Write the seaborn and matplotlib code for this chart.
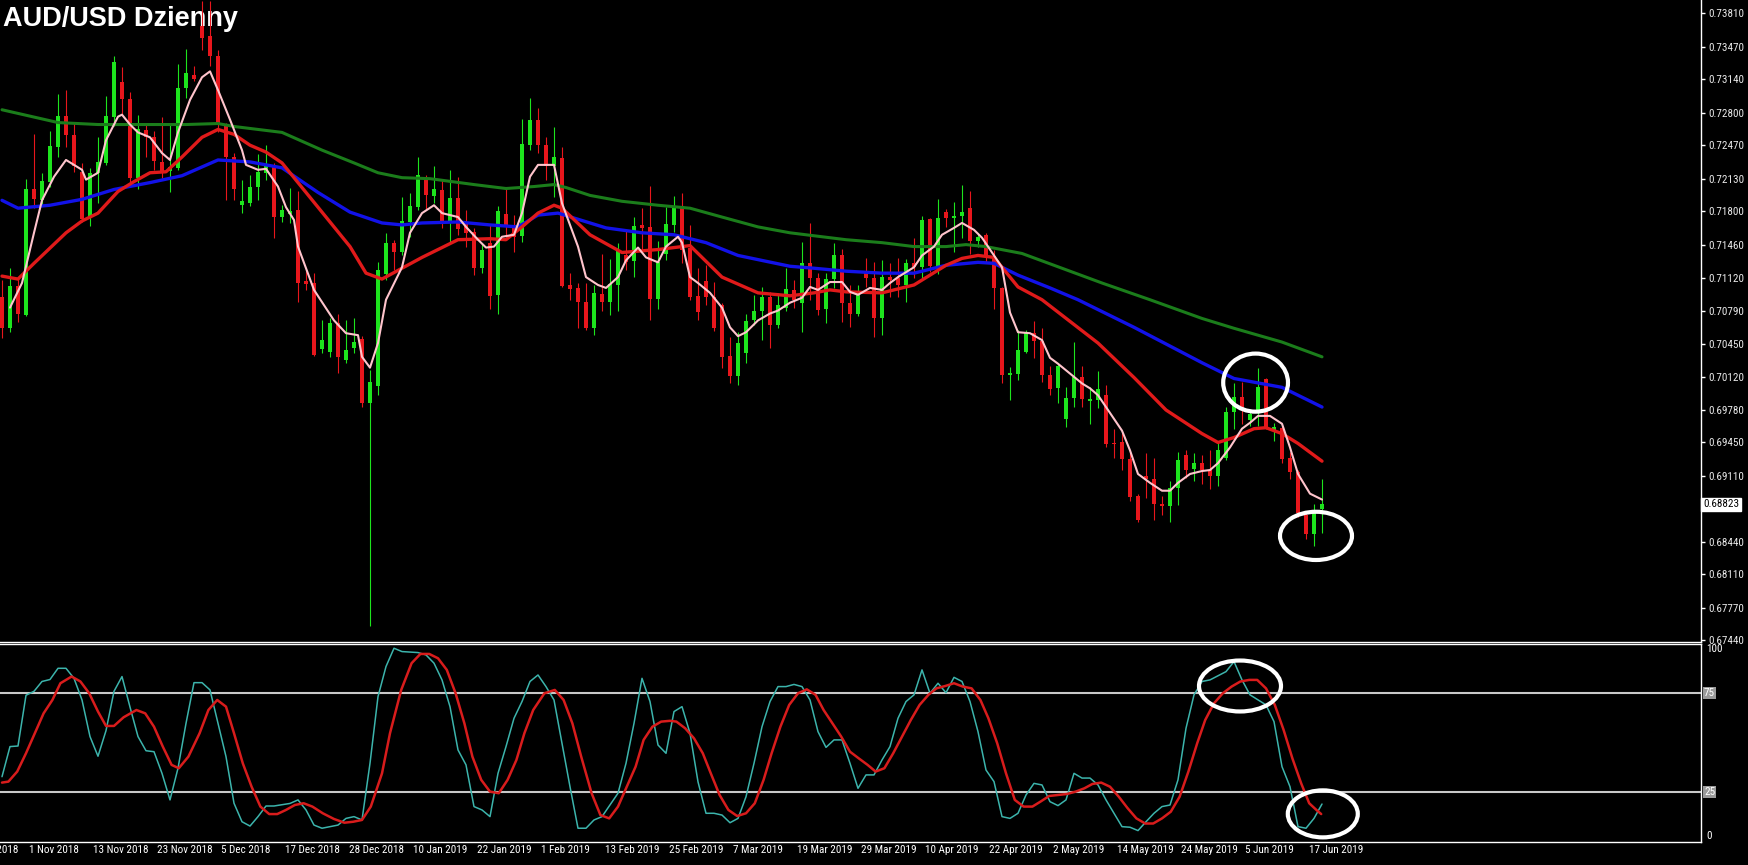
import numpy as np
import matplotlib
matplotlib.use('Agg')
import matplotlib.pyplot as plt
import matplotlib.transforms as mtransforms
from matplotlib import font_manager
from matplotlib.patches import Ellipse
import seaborn as sns

# AUD/USD daily candles, 29 Oct 2018 .. 19 Jun 2019
first_day = '2018-10-29'
holidays = ['2018-12-25', '2019-01-01']

open_ = [0.7093, 0.7061, 0.7104, 0.7074, 0.7202, 0.7191, 0.7210, 0.7245, 0.7277, 0.7257,
         0.7220, 0.7174, 0.7219, 0.7229, 0.7276, 0.7311, 0.7294, 0.7214, 0.7262, 0.7255,
         0.7230, 0.7221, 0.7224, 0.7305, 0.7318, 0.7368, 0.7358, 0.7338, 0.7267, 0.7235,
         0.7186, 0.7188, 0.7205, 0.7219, 0.7227, 0.7174, 0.7177, 0.7181, 0.7109, 0.7107,
         0.7040, 0.7037, 0.7066, 0.7029, 0.7041, 0.7050, 0.6985, 0.7002, 0.7116, 0.7148,
         0.7139, 0.7169, 0.7184, 0.7214, 0.7195, 0.7201, 0.7168, 0.7193, 0.7167, 0.7159,
         0.7122, 0.7148, 0.7095, 0.7177, 0.7166, 0.7155, 0.7247, 0.7273, 0.7247, 0.7226,
         0.7234, 0.7105, 0.7102, 0.7088, 0.7061, 0.7096, 0.7088, 0.7105, 0.7135, 0.7129,
         0.7166, 0.7164, 0.7091, 0.7136, 0.7166, 0.7185, 0.7143, 0.7094, 0.7109, 0.7093,
         0.7085, 0.7033, 0.7013, 0.7036, 0.7069, 0.7079, 0.7093, 0.7064, 0.7082, 0.7100,
         0.7087, 0.7127, 0.7112, 0.7081, 0.7111, 0.7135, 0.7087, 0.7076, 0.7119, 0.7112,
         0.7071, 0.7113, 0.7112, 0.7105, 0.7127, 0.7123, 0.7172, 0.7124, 0.7179, 0.7173,
         0.7175, 0.7183, 0.7150, 0.7156, 0.7134, 0.7102, 0.7014, 0.7015, 0.7037, 0.7056,
         0.7048, 0.7014, 0.7000, 0.6969, 0.6990, 0.7012, 0.6987, 0.6988, 0.6993, 0.6944,
         0.6945, 0.6928, 0.6891, 0.6911, 0.6908, 0.6883, 0.6880, 0.6899, 0.6932, 0.6918,
         0.6924, 0.6917, 0.6911, 0.6929, 0.6976, 0.6991, 0.6968, 0.6978, 0.7009, 0.6958,
         0.6960, 0.6929, 0.6915, 0.6871, 0.6852, 0.6877]
high = [0.7110, 0.7122, 0.7113, 0.7213, 0.7258, 0.7219, 0.7261, 0.7299, 0.7303, 0.7270,
        0.7229, 0.7224, 0.7255, 0.7297, 0.7338, 0.7326, 0.7301, 0.7278, 0.7269, 0.7261,
        0.7276, 0.7270, 0.7329, 0.7345, 0.7327, 0.7393, 0.7393, 0.7344, 0.7270, 0.7239,
        0.7212, 0.7217, 0.7238, 0.7247, 0.7229, 0.7186, 0.7204, 0.7200, 0.7120, 0.7117,
        0.7069, 0.7071, 0.7076, 0.7069, 0.7071, 0.7053, 0.7019, 0.7128, 0.7158, 0.7151,
        0.7194, 0.7198, 0.7235, 0.7217, 0.7226, 0.7212, 0.7222, 0.7215, 0.7181, 0.7163,
        0.7148, 0.7167, 0.7185, 0.7205, 0.7176, 0.7274, 0.7295, 0.7285, 0.7255, 0.7265,
        0.7245, 0.7117, 0.7107, 0.7107, 0.7105, 0.7136, 0.7131, 0.7148, 0.7161, 0.7174,
        0.7183, 0.7206, 0.7150, 0.7184, 0.7195, 0.7198, 0.7166, 0.7122, 0.7125, 0.7108,
        0.7087, 0.7052, 0.7057, 0.7076, 0.7095, 0.7103, 0.7098, 0.7097, 0.7122, 0.7110,
        0.7149, 0.7168, 0.7117, 0.7117, 0.7148, 0.7142, 0.7105, 0.7105, 0.7132, 0.7128,
        0.7130, 0.7127, 0.7132, 0.7131, 0.7153, 0.7175, 0.7173, 0.7192, 0.7182, 0.7189,
        0.7207, 0.7200, 0.7158, 0.7158, 0.7141, 0.7103, 0.7022, 0.7059, 0.7059, 0.7068,
        0.7061, 0.7023, 0.7025, 0.7001, 0.7047, 0.7023, 0.7001, 0.7018, 0.7003, 0.6959,
        0.6955, 0.6935, 0.6893, 0.6934, 0.6929, 0.6891, 0.6906, 0.6935, 0.6937, 0.6934,
        0.6932, 0.6937, 0.6944, 0.6981, 0.7005, 0.7006, 0.6978, 0.7021, 0.7010, 0.6965,
        0.6962, 0.6935, 0.6917, 0.6873, 0.6882, 0.6908]
low = [0.7051, 0.7057, 0.7067, 0.7073, 0.7183, 0.7186, 0.7205, 0.7235, 0.7245, 0.7220,
       0.7169, 0.7165, 0.7188, 0.7227, 0.7266, 0.7278, 0.7210, 0.7203, 0.7235, 0.7222,
       0.7214, 0.7199, 0.7222, 0.7295, 0.7312, 0.7344, 0.7327, 0.7260, 0.7191, 0.7191,
       0.7178, 0.7185, 0.7191, 0.7212, 0.7153, 0.7169, 0.7168, 0.7088, 0.7100, 0.7033,
       0.7036, 0.7032, 0.7016, 0.7026, 0.7036, 0.6981, 0.6759, 0.6993, 0.7110, 0.7120,
       0.7135, 0.7154, 0.7181, 0.7181, 0.7188, 0.7163, 0.7148, 0.7156, 0.7144, 0.7115,
       0.7117, 0.7081, 0.7076, 0.7154, 0.7138, 0.7149, 0.7242, 0.7239, 0.7212, 0.7194,
       0.7103, 0.7090, 0.7061, 0.7059, 0.7054, 0.7079, 0.7074, 0.7079, 0.7120, 0.7113,
       0.7137, 0.7069, 0.7081, 0.7130, 0.7159, 0.7127, 0.7090, 0.7069, 0.7085, 0.7058,
       0.7021, 0.7005, 0.7003, 0.7026, 0.7064, 0.7049, 0.7041, 0.7061, 0.7079, 0.7082,
       0.7057, 0.7090, 0.7074, 0.7066, 0.7102, 0.7067, 0.7062, 0.7073, 0.7103, 0.7052,
       0.7054, 0.7093, 0.7093, 0.7088, 0.7112, 0.7112, 0.7118, 0.7116, 0.7164, 0.7138,
       0.7153, 0.7136, 0.7144, 0.7128, 0.7081, 0.7005, 0.6988, 0.7008, 0.7036, 0.7031,
       0.7006, 0.6993, 0.6985, 0.6961, 0.6981, 0.6981, 0.6964, 0.6980, 0.6940, 0.6929,
       0.6917, 0.6886, 0.6864, 0.6889, 0.6866, 0.6871, 0.6864, 0.6881, 0.6909, 0.6906,
       0.6903, 0.6898, 0.6901, 0.6927, 0.6959, 0.6964, 0.6962, 0.6962, 0.6959, 0.6947,
       0.6924, 0.6908, 0.6869, 0.6847, 0.6840, 0.6853]
close = [0.7061, 0.7104, 0.7076, 0.7202, 0.7192, 0.7211, 0.7246, 0.7277, 0.7257, 0.7226,
         0.7172, 0.7219, 0.7230, 0.7277, 0.7332, 0.7294, 0.7214, 0.7263, 0.7255, 0.7231,
         0.7219, 0.7225, 0.7305, 0.7320, 0.7314, 0.7356, 0.7338, 0.7268, 0.7235, 0.7202,
         0.7190, 0.7205, 0.7220, 0.7227, 0.7174, 0.7181, 0.7180, 0.7107, 0.7106, 0.7034,
         0.7049, 0.7066, 0.7032, 0.7039, 0.7047, 0.6985, 0.7006, 0.7120, 0.7148, 0.7139,
         0.7170, 0.7185, 0.7217, 0.7196, 0.7202, 0.7168, 0.7193, 0.7162, 0.7158, 0.7122,
         0.7141, 0.7094, 0.7180, 0.7164, 0.7154, 0.7248, 0.7273, 0.7247, 0.7226, 0.7235,
         0.7104, 0.7101, 0.7088, 0.7061, 0.7097, 0.7088, 0.7106, 0.7141, 0.7128, 0.7165,
         0.7163, 0.7091, 0.7128, 0.7167, 0.7185, 0.7141, 0.7093, 0.7078, 0.7093, 0.7061,
         0.7032, 0.7013, 0.7046, 0.7068, 0.7079, 0.7093, 0.7064, 0.7085, 0.7101, 0.7090,
         0.7127, 0.7112, 0.7080, 0.7111, 0.7135, 0.7087, 0.7076, 0.7097, 0.7112, 0.7071,
         0.7113, 0.7110, 0.7105, 0.7127, 0.7123, 0.7171, 0.7124, 0.7173, 0.7173, 0.7175,
         0.7179, 0.7150, 0.7154, 0.7134, 0.7102, 0.7014, 0.7016, 0.7039, 0.7057, 0.7048,
         0.7014, 0.6999, 0.7023, 0.6990, 0.7012, 0.6989, 0.6989, 0.6999, 0.6943, 0.6943,
         0.6928, 0.6890, 0.6866, 0.6908, 0.6882, 0.6880, 0.6899, 0.6927, 0.6917, 0.6924,
         0.6917, 0.6911, 0.6937, 0.6976, 0.6991, 0.6978, 0.6974, 0.7001, 0.6959, 0.6961,
         0.6928, 0.6915, 0.6873, 0.6852, 0.6873, 0.68823]
last_price = 0.68823

# moving averages, read at bar positions
ma_slow_x = [0, 7, 12, 23, 27, 29, 35, 40, 44, 47, 50, 53.5, 59, 63, 66.5, 69, 70.5, 73.5, 77.5, 82,
             86, 90, 94.5, 98.5, 101.5, 105.5, 110, 114, 118, 120.5, 123, 127.5, 132.5, 137.5,
             143.5, 150, 154, 160, 165]
ma_slow = [0.7283, 0.7270, 0.7268, 0.7268, 0.7269, 0.7266, 0.7260, 0.7242, 0.7229, 0.7219,
           0.7214, 0.7213, 0.7207, 0.7203, 0.7205, 0.7207, 0.7204, 0.7196, 0.7190, 0.7186,
           0.7183, 0.7174, 0.7164, 0.7158, 0.7155, 0.7151, 0.7148, 0.7144, 0.7144, 0.7146,
           0.7144, 0.7137, 0.7122, 0.7107, 0.7090, 0.7071, 0.7061, 0.7047, 0.7032]
ma_mid_x = [0, 2, 6, 10, 14, 18.5, 22.5, 27, 31, 35, 39.5, 43.5, 47.5, 50, 52.5, 57, 61, 64.5, 67,
            69.5, 71.5, 75.5, 80, 84, 88, 92, 98.5, 101.5, 105.5, 110, 114, 118, 122, 124, 127,
            131, 134.5, 141.5, 150, 154, 160, 165]
ma_mid = [0.7191, 0.7183, 0.7186, 0.7192, 0.7202, 0.7209, 0.7216, 0.7232, 0.7230, 0.7224,
          0.7199, 0.7179, 0.7168, 0.7166, 0.7168, 0.7169, 0.7166, 0.7164, 0.7176, 0.7178,
          0.7173, 0.7163, 0.7158, 0.7156, 0.7148, 0.7135, 0.7124, 0.7122, 0.7119, 0.7117,
          0.7117, 0.7125, 0.7128, 0.7127, 0.7115, 0.7102, 0.7090, 0.7062, 0.7026, 0.7010,
          0.7001, 0.6981]
ma_fast_x = [0, 2, 4, 8, 10, 12, 14.5, 16.5, 18.5, 20.5, 22.5, 25, 27, 29, 31, 33, 35, 37, 39.5,
             43.5, 45.5, 47.5, 50, 52.5, 57, 61, 63, 65, 67, 69, 70, 73.5, 77.5, 82, 86, 90, 94.5,
             98.5, 101.5, 103.5, 105.5, 110, 114, 118, 120, 122, 124, 125, 127, 130, 137, 141.5,
             145.5, 150, 152, 154, 156.5, 158, 160, 162, 165]
ma_fast = [0.7114, 0.7111, 0.7127, 0.7158, 0.7170, 0.7178, 0.7200, 0.7210, 0.7219, 0.7220,
           0.7235, 0.7255, 0.7263, 0.7258, 0.7247, 0.7240, 0.7229, 0.7209, 0.7184, 0.7144,
           0.7117, 0.7111, 0.7122, 0.7133, 0.7151, 0.7152, 0.7151, 0.7164, 0.7178, 0.7186,
           0.7183, 0.7156, 0.7138, 0.7141, 0.7145, 0.7113, 0.7097, 0.7094, 0.7097, 0.7100,
           0.7098, 0.7097, 0.7105, 0.7125, 0.7132, 0.7135, 0.7133, 0.7123, 0.7103, 0.7090,
           0.7046, 0.7011, 0.6978, 0.6954, 0.6945, 0.6950, 0.6959, 0.6960, 0.6954, 0.6944,
           0.6926]
ma_short_x = [1, 2.5, 4, 5, 6.5, 8, 10, 10.5, 12, 13, 14.5, 15, 16, 17, 18.5, 20, 21, 22, 23.5, 25,
              26, 27, 28.5, 30, 30.5, 32, 33, 34.5, 35.5, 36.5, 37, 39, 41.5, 43, 44.5, 45, 46, 47,
              48, 50, 51, 52.5, 54, 55, 57, 58, 59.5, 60.5, 61.5, 62.5, 64, 65, 66, 67, 69, 70,
              72, 73, 74.5, 75.5, 77, 78, 79.5, 80.5, 82, 83, 84.5, 85, 86, 87, 88.5, 90, 91, 92,
              93, 94.5, 96, 97, 98.5, 100, 101, 102, 103.5, 105, 106, 107, 108.5, 110, 111, 112,
              114, 115, 116.5, 117.5, 119, 120, 121.5, 122.5, 123.5, 125, 126, 127, 128.5, 130,
              131, 132, 133.5, 135, 136, 137, 138.5, 140, 141, 142, 143.5, 145, 146, 147, 148.5,
              150, 151, 152, 153.5, 155, 156, 157, 158.5, 160, 161, 162, 163.5, 165]
ma_short = [0.7082, 0.7107, 0.7158, 0.7191, 0.7215, 0.7232, 0.7222, 0.7212, 0.7219, 0.7252,
            0.7276, 0.7278, 0.7268, 0.7260, 0.7255, 0.7239, 0.7232, 0.7260, 0.7293, 0.7316,
            0.7322, 0.7303, 0.7273, 0.7242, 0.7227, 0.7222, 0.7223, 0.7205, 0.7184, 0.7171,
            0.7144, 0.7100, 0.7069, 0.7056, 0.7054, 0.7032, 0.7021, 0.7046, 0.7090, 0.7123,
            0.7158, 0.7178, 0.7186, 0.7178, 0.7174, 0.7164, 0.7151, 0.7143, 0.7144, 0.7154,
            0.7156, 0.7178, 0.7215, 0.7227, 0.7227, 0.7188, 0.7144, 0.7113, 0.7105, 0.7102,
            0.7113, 0.7130, 0.7143, 0.7133, 0.7128, 0.7144, 0.7154, 0.7148, 0.7113, 0.7107,
            0.7097, 0.7082, 0.7062, 0.7053, 0.7057, 0.7069, 0.7076, 0.7079, 0.7087, 0.7092,
            0.7103, 0.7100, 0.7108, 0.7108, 0.7098, 0.7095, 0.7102, 0.7100, 0.7107, 0.7113,
            0.7123, 0.7135, 0.7144, 0.7156, 0.7163, 0.7168, 0.7161, 0.7153, 0.7141, 0.7123,
            0.7077, 0.7057, 0.7056, 0.7049, 0.7031, 0.7025, 0.7015, 0.7005, 0.7000, 0.6993,
            0.6975, 0.6957, 0.6937, 0.6913, 0.6904, 0.6896, 0.6896, 0.6904, 0.6913, 0.6916,
            0.6917, 0.6924, 0.6940, 0.6959, 0.6965, 0.6972, 0.6972, 0.6964, 0.6940, 0.6913,
            0.6893, 0.6887]

# stochastic oscillator (%K cyan, %D red)
stoch_k_x = [0, 1, 2, 3, 4, 5, 6, 7, 8, 9, 10, 11, 12, 13, 14, 15, 16, 17, 18, 19,
             20, 21, 22, 23, 24, 25, 26, 27, 28, 29, 30, 31, 32, 33, 34, 36, 37, 38, 39, 40,
             42, 43, 44, 45, 46, 47, 48, 49, 50, 52, 53, 54, 55, 56, 57, 58, 59, 60, 61, 62,
             63, 64, 65, 66, 67, 68, 69, 70, 71, 72, 73, 74, 75, 77, 78, 79, 80, 81, 82, 83,
             84, 85, 86, 87, 88, 89, 90, 91, 92, 93, 94, 95, 96, 97, 98, 99, 100, 101, 102, 103,
             104, 105, 106, 107, 108, 109, 110, 111, 112, 113, 114, 115, 116, 117, 118, 119, 120,
             121, 122, 123, 124, 125, 126, 127, 128, 129, 130, 131, 132, 133, 134, 135, 136, 137,
             138, 139, 140, 141, 142, 143, 144, 145, 146, 147, 148, 149, 150, 151, 153, 154,
             155, 156, 158, 159, 160, 161, 162, 163, 164, 165]
stoch_k = [32.6, 47.9, 48.2, 74, 76, 81, 82, 87.7, 87.7, 82.6, 71.6, 53, 43, 56, 76, 83.5, 68, 53,
           45.8, 45.3, 34.3, 20.8, 36.9, 59.7, 80.4, 80.4, 76.7, 59.7, 42.8, 19.1, 9.7, 7.5, 12.3,
           17.7, 17.7, 19, 20.8, 15.7, 8, 6.4, 8, 11.4, 12.3, 10.6, 39.4, 73.3, 88.6, 97.9, 96.2,
           95.7, 94.5, 90.3, 81.8, 68.2, 46.2, 38.6, 17.4, 15.7, 12.3, 34.3, 47.9, 62.3, 70.8, 81,
           84.3, 78.4, 71.6, 49.6, 27.5, 6.4, 6.4, 10.6, 12.3, 24.2, 39.4, 59.7, 82.6, 70.8, 48.7,
           44.5, 65.7, 68.2, 54.7, 30, 14, 14, 13.1, 9.2, 11.4, 22.4, 39.4, 58, 70.8, 78.4, 78.4,
           79.5, 78.4, 71.6, 55.5, 47.5, 51.3, 51.3, 39.4, 26.7, 33.5, 33.5, 41.1, 47.9, 62.3,
           70.8, 74.2, 86.9, 75, 80.1, 75.3, 83.1, 81, 70.8, 55.5, 36, 30.1, 12.3, 11.4, 14, 23.3,
           29.2, 28.4, 19.9, 17.9, 20.8, 34.3, 31.9, 31.9, 28.4, 20.8, 14, 7.2, 6.9, 5.2, 9.7, 14,
           17.4, 18.2, 31, 57.2, 74.2, 81, 81.8, 86, 91.1, 81.8, 74.2, 69.1, 60.6, 37.7, 27.5,
           7.2, 6.4, 11.4, 18.7]
stoch_d_x = [0, 0.8, 1.9, 3, 4.1, 5.2, 6.3, 7.3, 8.7, 9.8, 10.9, 12, 13, 14, 15.2, 16.8, 17.9, 19,
             20.1, 21.2, 22.1, 23.3, 24.7, 25.8, 26.9, 28, 29, 30.1, 31.2, 32.3, 33.4, 34.4, 35.5,
             36.6, 37.7, 38.8, 40.1, 41.5, 42.8, 43.9, 45, 46.1, 47.5, 48.5, 49.9, 51.2, 52.3, 53.4,
             54.5, 55.6, 56.7, 57.8, 58.8, 59.9, 61, 62.1, 63.2, 64.3, 65.3, 66.4, 67.8, 69.1, 70.2,
             71.3, 72.4, 73.7, 74.8, 75.9, 77, 78.1, 79.2, 80.2, 81.3, 82.4, 83.5, 84.3, 85.4, 86.5,
             87.6, 88.6, 89.7, 90.8, 91.9, 93, 94.1, 95.2, 96.2, 97.3, 98.4, 99.5, 100.6, 101.7,
             102.7, 103.8, 104.9, 106, 107.1, 108.2, 109.2, 110.3, 111.4, 112.5, 113.6, 114.7,
             115.8, 116.8, 117.9, 119, 120.1, 121.2, 122.3, 123.3, 124.4, 125.5, 126.6, 127.7,
             128.8, 129.8, 130.9, 132, 133.1, 134.2, 135.3, 136.3, 137.4, 138.5, 139.6, 140.7,
             141.8, 142.9, 143.9, 145, 146.1, 147.2, 148.3, 149.4, 150.4, 151.5, 152.6, 153.7,
             154.8, 155.9, 156.9, 158, 159.1, 160.2, 161.3, 162.4, 163.4, 164.3, 164.9]
stoch_d = [29.6, 30.1, 35.2, 44.5, 54.7, 64.8, 71.6, 80.1, 83.5, 81, 75, 65.7, 58.4, 58.4, 62.8,
           66.5, 64.8, 58, 47.9, 38.6, 36.9, 42.8, 54.7, 66.5, 71.6, 68.2, 54.7, 39.4, 27.5, 17.4,
           13.6, 13.6, 15.7, 18.2, 19.1, 17.4, 14, 11.1, 9.2, 9.7, 10.6, 17.4, 34.3, 54.7, 76.7,
           90.3, 95, 95, 92.8, 86.9, 75, 59.7, 42.8, 31, 25, 24.2, 31, 41.1, 54.7, 66.5, 75, 76.7,
           71.6, 59.7, 42.8, 24.2, 13.1, 11.4, 17.4, 27.5, 37.7, 51.3, 58, 60.6, 61, 60.6, 57.2,
           52.1, 44.5, 34.3, 23.3, 15.7, 12.6, 14, 19.1, 31, 44.5, 58, 69.1, 75, 77, 74.2, 66.5,
           59.7, 53, 45.3, 41.9, 38.6, 35.2, 36.9, 44.5, 53, 61.4, 69.1, 74.2, 77.5, 78.7, 80.1,
           78.4, 77.5, 71.6, 62.3, 49.6, 34.3, 20.8, 17.4, 17.4, 19.9, 22.8, 23.3, 23.8, 25, 26.7,
           28.9, 29.6, 27.5, 22.4, 16.6, 11.4, 8.8, 8.8, 11.4, 14.8, 22.4, 35.2, 49.6, 61.4, 69.9,
           75, 78.4, 81, 81.8, 81.8, 77.5, 69.1, 56.4, 41.9, 29.2, 19.1, 15.7, 13.6]
stoch_levels = [75, 25]

price_ticks = [0.73810, 0.73470, 0.73140, 0.72800, 0.72470, 0.72130, 0.71800, 0.71460, 0.71120,
               0.70790, 0.70450, 0.70120, 0.69780, 0.69450, 0.69110, 0.68780, 0.68440, 0.68110,
               0.67770, 0.67440]
date_labels = ['22 Oct 2018', '1 Nov 2018', '13 Nov 2018', '23 Nov 2018', '5 Dec 2018',
               '17 Dec 2018', '28 Dec 2018', '10 Jan 2019', '22 Jan 2019', '1 Feb 2019',
               '13 Feb 2019', '25 Feb 2019', '7 Mar 2019', '19 Mar 2019', '29 Mar 2019',
               '10 Apr 2019', '22 Apr 2019', '2 May 2019', '14 May 2019', '24 May 2019',
               '5 Jun 2019', '17 Jun 2019']
date_iso = ['2018-10-22', '2018-11-01', '2018-11-13', '2018-11-23', '2018-12-05', '2018-12-17',
            '2018-12-28', '2019-01-10', '2019-01-22', '2019-02-01', '2019-02-13', '2019-02-25',
            '2019-03-07', '2019-03-19', '2019-03-29', '2019-04-10', '2019-04-22', '2019-05-02',
            '2019-05-14', '2019-05-24', '2019-06-05', '2019-06-17']

# colours
bg = 'black'
bull, bear = '#1de41d', '#e8161c'
c_slow, c_mid, c_fast, c_short = '#1b7d1b', '#1212e8', '#e01a1a', '#ffc4cc'
c_k, c_d = '#3cb4ac', '#d81c1c'


def first_font(cands):
    for f in cands:
        try:
            font_manager.findfont(f, fallback_to_default=False)
            return f
        except ValueError:
            pass
    return 'DejaVu Sans'


# small axis text: narrow face if one is installed
small_font = first_font(['Liberation Sans Narrow', 'Roboto Condensed', 'DejaVu Sans Condensed',
                         'Liberation Sans'])
small_size = {'Liberation Sans Narrow': 8, 'Roboto Condensed': 8}.get(small_font, 6.9)

sns.set_theme(style='dark')
plt.rcParams['font.family'] = [small_font, 'DejaVu Sans']

W, H = 1749, 865
fig = plt.figure(figsize=(W / 100, H / 100), dpi=100, facecolor=bg)
ax = fig.add_axes([0, 223 / H, 1701 / W, 642 / H], facecolor=bg)
ax2 = fig.add_axes([0, 23 / H, 1701 / W, 198 / H], facecolor=bg)
xlim = (-0.25, 212.375)

# --- price panel ---
o, h, l, c = map(np.array, (open_, high, low, close))
x = np.arange(len(c))
cols = np.where(c >= o, bull, bear)
ax.vlines(x, l, h, colors=cols, lw=0.8, zorder=2)
ax.bar(x, np.maximum(np.abs(c - o), 0.00012), bottom=np.minimum(o, c), width=0.62,
       color=cols, lw=0, zorder=3)

for xs, ys, col, lw in [(ma_slow_x, ma_slow, c_slow, 2.2), (ma_mid_x, ma_mid, c_mid, 2.4),
                        (ma_fast_x, ma_fast, c_fast, 2.4), (ma_short_x, ma_short, c_short, 1.5)]:
    sns.lineplot(x=xs, y=ys, ax=ax, color=col, lw=lw, estimator=None, sort=False,
                 legend=False, zorder=4)

ax.set_xlim(*xlim)
ax.set_ylim(0.67423, 0.73945)
ax.set_xticks([])
ax.yaxis.tick_right()
ax.set_yticks(price_ticks)
# the 0.68780 label sits under the current-price box, as in MetaTrader
ax.set_yticklabels(['' if abs(t - 0.68780) < 1e-9 else f'{t:.5f}' for t in price_ticks])
ax.tick_params(axis='y', colors='white', labelcolor='#e8e8e8', length=3, width=1,
               direction='out', pad=2, labelsize=small_size)
ax.set_xlabel('')
ax.set_ylabel('')
ax.grid(False)
for s in ['top', 'left']:
    ax.spines[s].set_visible(False)
for s in ['right', 'bottom']:
    ax.spines[s].set_color('white')
    ax.spines[s].set_linewidth(1)

trans = mtransforms.blended_transform_factory(ax.transAxes, ax.transData)
ax.text(1.0 + 2 / 1701, last_price, f'{last_price:.5f}', transform=trans, ha='left',
        va='center', color='black', fontsize=small_size, zorder=10, clip_on=False,
        bbox=dict(facecolor='white', edgecolor='white', boxstyle='square,pad=0.15'))

ax.text(3 / 1701, 1 - 6 / 642, 'AUD/USD Dzienny', transform=ax.transAxes, ha='left', va='top',
        color='white', fontsize=19.5, fontweight='bold',
        family=['Liberation Sans', 'DejaVu Sans'], zorder=1)

for cx, cy, w, hgt in [(156.7, 0.70058, 8.1, 0.0059), (164.25, 0.68501, 9.0, 0.0049)]:
    ax.add_patch(Ellipse((cx, cy), w, hgt, fill=False, ec='white', lw=3, zorder=8,
                         clip_on=False))

# --- stochastic panel ---
for lvl in stoch_levels:
    ax2.axhline(lvl, color='#c8c8c8', lw=1.5, zorder=1)
sns.lineplot(x=stoch_k_x, y=stoch_k, ax=ax2, color=c_k, lw=1.1, estimator=None, sort=False,
             legend=False, zorder=3)
sns.lineplot(x=stoch_d_x, y=stoch_d, ax=ax2, color=c_d, lw=1.8, estimator=None, sort=False,
             legend=False, zorder=4)
ax2.set_xlim(*xlim)
ax2.set_ylim(-0.6, 100.05)
ax2.set_yticks([])
ax2.set_xlabel('')
ax2.set_ylabel('')
ax2.grid(False)
ax2.spines['left'].set_visible(False)
for s in ['right', 'bottom', 'top']:
    ax2.spines[s].set_color('white')
    ax2.spines[s].set_linewidth(1)

trans2 = mtransforms.blended_transform_factory(ax2.transAxes, ax2.transData)
xr = 1.0 + 5 / 1701
ax2.text(xr, 100, '100', transform=trans2, ha='left', va='top', color='white',
         fontsize=small_size, clip_on=False)
ax2.text(xr, 0, '0', transform=trans2, ha='left', va='bottom', color='white',
         fontsize=small_size, clip_on=False)
for lvl in stoch_levels:
    ax2.text(1.0 + 3 / 1701, lvl, str(lvl), transform=trans2, ha='left', va='center',
             color='white', fontsize=small_size, clip_on=False,
             bbox=dict(facecolor='#9a9a9a', edgecolor='none', boxstyle='square,pad=0.1'))

for e in [(154.75, 78.7, 10.25, 25.9), (165.1, 13.7, 8.75, 23.9)]:
    ax2.add_patch(Ellipse((e[0], e[1]), e[2], e[3], fill=False, ec='white', lw=3, zorder=8,
                          clip_on=False))

# date axis: bar index of each labelled trading day
date_pos = np.busday_count(first_day, date_iso, holidays=holidays)
ax2.set_xticks([p for p in date_pos if p >= xlim[0]])
ax2.tick_params(axis='x', colors='white', length=3, width=1, direction='out',
                labelbottom=False)
for p, lbl in zip(date_pos, date_labels):
    ax2.annotate(lbl, xy=(p, 0), xycoords=('data', 'axes fraction'), xytext=(2.2, -2.5),
                 textcoords='offset points', ha='left', va='top', color='white',
                 fontsize=small_size, annotation_clip=False)

fig.savefig('out.png', dpi=100, facecolor=bg)
